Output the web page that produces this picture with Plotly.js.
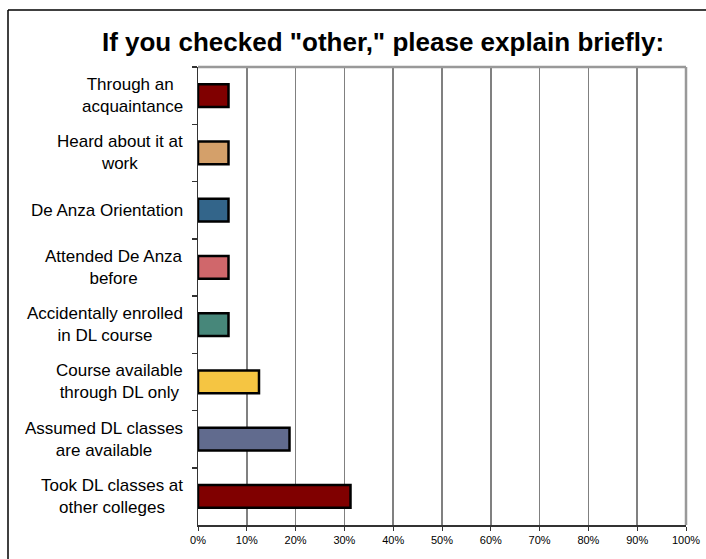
<!DOCTYPE html>
<html><head><meta charset="utf-8">
<script src="https://cdn.plot.ly/plotly-3.0.1.min.js"></script>
<style>html,body{margin:0;padding:0;background:#fff;}#chart{width:706px;height:559px;}</style>
</head><body><div id="chart"></div>
<script>
const categories = [
  "Through an\u00a0<br>acquaintance",
  "Heard about it at<br>work",
  "De Anza Orientation",
  "Attended De Anza<br>before",
  "Accidentally enrolled<br>in DL course",
  "Course available<br>through DL only",
  "Assumed DL classes<br>are available",
  "Took DL classes at<br>other colleges"
];
const values = [0.0625, 0.0625, 0.0625, 0.0625, 0.0625, 0.125, 0.1875, 0.3125];
const colors = ["#800000", "#D4A06A", "#33658A", "#D0676B", "#47877A", "#F5C542", "#616B8E", "#800000"];
const titleText = 'If you checked "other," please explain briefly:';

const L = 198, R = 686, T = 67, B = 525, W = 706, H = 559;
const pw = R - L, ph = B - T;
const px = x => (x - L) / pw;
const py = y => (B - y) / ph;

const trace = {
  type: 'bar', orientation: 'h',
  y: categories, x: values,
  width: 0.4,
  marker: {color: colors, line: {color: '#000', width: 2.5}},
  hoverinfo: 'none'
};

const labelAnnotations = categories.map(c => ({
  xref: 'paper', yref: 'y', x: px(185), y: c, xanchor: 'right', yanchor: 'middle',
  align: 'center', showarrow: false, text: c,
  font: {size: 17, family: 'Liberation Sans, Arial, sans-serif', color: '#000'}
}));

const layout = {
  width: W, height: H,
  margin: {l: L, r: W - R, t: T, b: H - B, pad: 0},
  paper_bgcolor: '#fff', plot_bgcolor: '#fff',
  showlegend: false,
  font: {family: 'Liberation Sans, Arial, sans-serif', color: '#000'},
  title: {text: '<b>' + titleText + '</b>', font: {size: 26, family: 'Liberation Sans, Arial, sans-serif', color: '#000'},
          xref: 'container', x: 383 / W, xanchor: 'center', yref: 'container', y: 1 - 42 / H, yanchor: 'middle'},
  xaxis: {
    range: [0, 1], dtick: 0.1, tick0: 0, tickformat: '.0%',
    showgrid: true, gridcolor: '#808080', gridwidth: 1.5,
    showline: true, linecolor: '#333', linewidth: 1.5,
    ticks: 'outside', ticklen: 4, tickcolor: '#333', tickwidth: 1,
    tickfont: {size: 11}, zeroline: false, fixedrange: true
  },
  yaxis: {
    autorange: 'reversed', type: 'category',
    showgrid: false, showline: true, linecolor: '#333', linewidth: 1.5,
    ticks: 'outside', ticklen: 5, tickcolor: '#333', tickwidth: 1.5, tickson: 'boundaries',
    showticklabels: false, zeroline: false, fixedrange: true
  },
  annotations: labelAnnotations,
  shapes: [
    {type: 'line', xref: 'paper', yref: 'paper', x0: 0, x1: 1, y0: 1, y1: 1, line: {color: '#999', width: 2.5}},
    {type: 'line', xref: 'paper', yref: 'paper', x0: 1, x1: 1, y0: 0, y1: 1, line: {color: '#999', width: 2.5}},
    {type: 'line', xref: 'paper', yref: 'paper', x0: px(8), x1: px(720), y0: py(10), y1: py(10), line: {color: '#000', width: 1.5}},
    {type: 'line', xref: 'paper', yref: 'paper', x0: px(8), x1: px(8), y0: py(10), y1: py(580), line: {color: '#000', width: 1.5}}
  ]
};

Plotly.newPlot('chart', [trace], layout, {displayModeBar: false, staticPlot: true});
</script></body></html>
